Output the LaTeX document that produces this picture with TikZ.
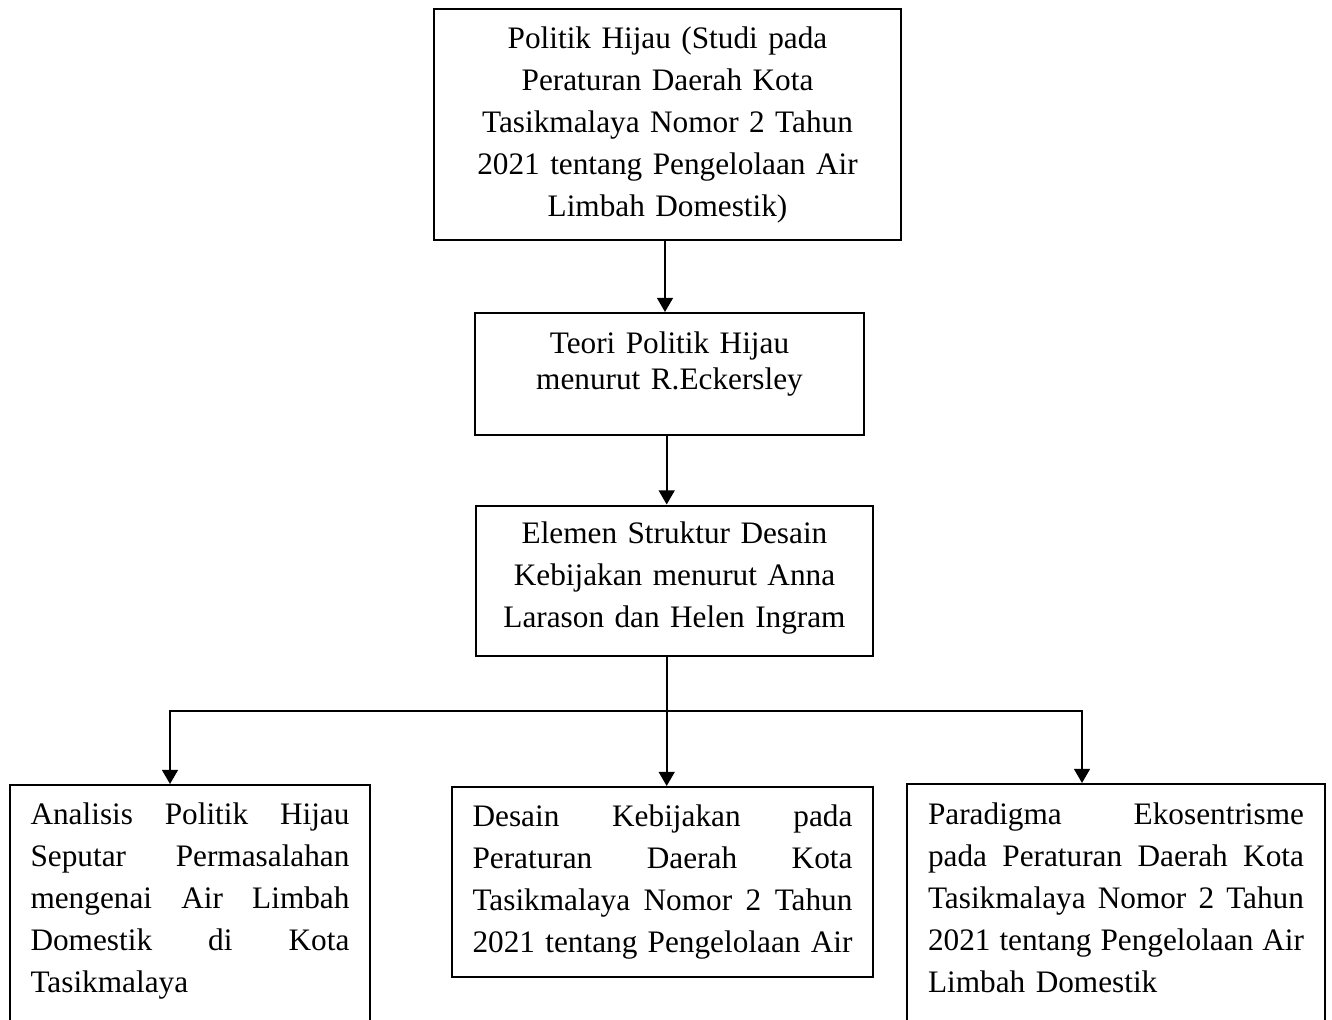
\documentclass[tikz,border=0pt]{standalone}
\usepackage{fontspec}
\setmainfont{Liberation Serif}
\usetikzlibrary{arrows.meta}

\newcommand{\rata}[1]{\leavevmode\hbox to \hsize{#1}}

\begin{document}
\begin{tikzpicture}[x=0.02cm, y=-0.02cm, line width=1pt, >={Triangle[width=9pt,length=8pt]}]
	\tikzstyle{kotak} = [draw, rectangle, line width=1.3pt, anchor=north, inner ysep=0pt, font=\fontsize{17.8}{23.9}\selectfont]
	\tikzstyle{tengah} = [kotak, align=center]
	\tikzstyle{rapi} = [kotak, align=left]

	\useasboundingbox (0,0) rectangle (1332,1020);
	\clip (0,0) rectangle (1332,1020);

	\node[tengah, text width=8.54cm, inner xsep=0.4cm, text height=0.78cm, text depth=3.84cm] (politik) at (667.5,8)
		{Politik Hijau (Studi pada\\ Peraturan Daerah Kota\\ Tasikmalaya Nomor 2 Tahun\\ 2021 tentang Pengelolaan Air\\ Limbah Domestik)};
	\node[tengah, text width=6.98cm, inner xsep=0.4cm, text height=0.8cm, text depth=1.64cm, font=\fontsize{17.8}{20.5}\selectfont] (teori) at (669.5,312)
		{Teori Politik Hijau\\ menurut R.Eckersley};
	\node[tengah, text width=7.14cm, inner xsep=0.4cm, text height=0.75cm, text depth=2.26cm] (elemen) at (674.5,504.5)
		{Elemen Struktur Desain\\ Kebijakan menurut Anna\\ Larason dan Helen Ingram};

	\node[rapi, text width=6.38cm, inner xsep=0.415cm, text height=0.78cm, text depth=6cm] (analisis) at (190,784)
		{\rata{Analisis\hfill Politik\hfill Hijau}\\ \rata{Seputar\hfill Permasalahan}\\ \rata{mengenai\hfill Air\hfill Limbah}\\ \rata{Domestik\hfill di\hfill Kota}\\ Tasikmalaya};
	\node[rapi, text width=7.6cm, inner xsep=0.41cm, text height=0.78cm, text depth=3.02cm] (desain) at (662.5,786)
		{\rata{Desain\hfill Kebijakan\hfill pada}\\ \rata{Peraturan\hfill Daerah\hfill Kota}\\ \rata{Tasikmalaya\hfill Nomor\hfill 2\hfill Tahun}\\ \rata{2021\hfill tentang\hfill Pengelolaan\hfill Air}};
	\node[rapi, text width=7.52cm, inner xsep=0.42cm, text height=0.8cm, text depth=6cm] (paradigma) at (1116,783)
		{\rata{Paradigma\hfill Ekosentrisme}\\ \rata{pada\hfill Peraturan\hfill Daerah\hfill Kota}\\ \rata{Tasikmalaya\hfill Nomor\hfill 2\hfill Tahun}\\ \rata{2021\hfill tentang\hfill Pengelolaan\hfill Air}\\ Limbah Domestik};

	% percabangan
	\coordinate (cabang) at (666.7,711);
	\coordinate (kiri) at (170,711);
	\coordinate (kanan) at (1082,711);

	\draw[->] ([xshift=-2.5*0.02cm]politik.south) -- ([xshift=-2.5*0.02cm]politik.south |- teori.north);
	\draw[->] (cabang |- teori.south) -- (cabang |- elemen.north);
	\draw (cabang |- elemen.south) -- (cabang);
	\draw[->] (cabang) -- (cabang |- desain.north);
	\draw[->] (cabang) -- (kiri) -- (kiri |- analisis.north);
	\draw[->] (cabang) -- (kanan) -- (kanan |- paradigma.north);
\end{tikzpicture}
\end{document}
